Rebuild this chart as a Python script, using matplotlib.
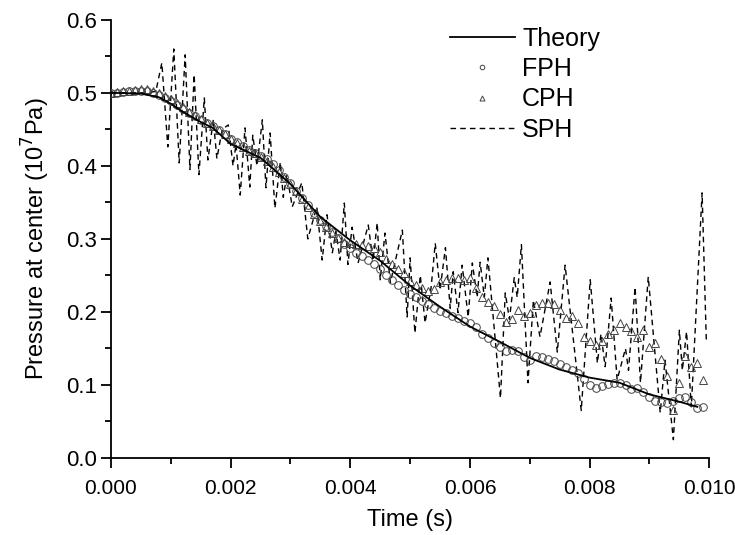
import matplotlib
matplotlib.use("Agg")
import matplotlib.pyplot as plt
import numpy as np
from matplotlib.ticker import MultipleLocator, FormatStrFormatter

plt.rcParams['font.family'] = ['Liberation Sans', 'DejaVu Sans']

# time in ms (converted to s when plotting), pressure in 10^7 Pa
theory_t = [0.0, 0.5, 0.8, 1.0, 1.2, 1.5, 1.7, 2.0, 2.5, 3.0, 3.5, 4.0, 4.5, 5.0,
            5.5, 6.0, 6.5, 7.0, 7.5, 8.0, 8.5, 9.0, 9.5, 9.8]
theory_p = [0.500, 0.499, 0.494, 0.485, 0.474, 0.460, 0.452, 0.430, 0.411, 0.375,
            0.330, 0.298, 0.270, 0.236, 0.207, 0.180, 0.159, 0.137, 0.121, 0.110,
            0.103, 0.087, 0.077, 0.070]

fph_p = [0.500, 0.500, 0.501, 0.502, 0.503, 0.503, 0.502, 0.500, 0.497, 0.493,
         0.489, 0.484, 0.478, 0.473, 0.468, 0.463, 0.458, 0.454, 0.449, 0.443,
         0.437, 0.432, 0.427, 0.422, 0.418, 0.414, 0.409, 0.402, 0.394, 0.385,
         0.376, 0.366, 0.356, 0.346, 0.336, 0.326, 0.318, 0.310, 0.301, 0.293,
         0.287, 0.281, 0.276, 0.271, 0.266, 0.259, 0.251, 0.244, 0.237, 0.230,
         0.225, 0.220, 0.215, 0.211, 0.206, 0.201, 0.198, 0.195, 0.191, 0.188,
         0.185, 0.179, 0.170, 0.164, 0.158, 0.152, 0.146, 0.148, 0.147, 0.138,
         0.134, 0.140, 0.138, 0.136, 0.133, 0.128, 0.124, 0.121, 0.117, 0.108,
         0.100, 0.096, 0.099, 0.101, 0.103, 0.103, 0.100, 0.094, 0.096, 0.090,
         0.083, 0.078, 0.076, 0.075, 0.078, 0.082, 0.084, 0.076, 0.068, 0.070]

cph_p = [0.500, 0.501, 0.502, 0.503, 0.504, 0.505, 0.505, 0.503, 0.500, 0.496,
         0.492, 0.486, 0.480, 0.474, 0.469, 0.464, 0.459, 0.454, 0.449, 0.443,
         0.437, 0.431, 0.426, 0.421, 0.417, 0.412, 0.406, 0.399, 0.392, 0.384,
         0.375, 0.365, 0.355, 0.344, 0.334, 0.325, 0.316, 0.308, 0.301, 0.296,
         0.294, 0.293, 0.292, 0.290, 0.288, 0.282, 0.273, 0.265, 0.259, 0.253,
         0.243, 0.237, 0.233, 0.229, 0.232, 0.241, 0.244, 0.247, 0.247, 0.244,
         0.247, 0.233, 0.221, 0.214, 0.208, 0.197, 0.186, 0.190, 0.202, 0.195,
         0.198, 0.209, 0.212, 0.212, 0.211, 0.203, 0.192, 0.195, 0.185, 0.165,
         0.160, 0.155, 0.160, 0.170, 0.175, 0.185, 0.180, 0.174, 0.165, 0.175,
         0.152, 0.158, 0.135, 0.112, 0.066, 0.103, 0.140, 0.125, 0.130, 0.107]

sph_t = [0.0, 0.3, 0.6, 0.75, 0.85, 0.95, 1.05, 1.14, 1.24, 1.32, 1.39, 1.47,
         1.56, 1.62, 1.71, 1.77, 1.86, 1.96, 2.04, 2.09, 2.16, 2.24, 2.32, 2.37,
         2.44, 2.53, 2.59, 2.66, 2.74, 2.83, 2.88, 2.94, 3.03, 3.19, 3.29, 3.44,
         3.53, 3.61, 3.70, 3.76, 3.83, 3.90, 3.96, 4.03, 4.13, 4.30, 4.38, 4.45,
         4.50, 4.58, 4.67, 4.87, 4.95, 5.00, 5.08, 5.17, 5.25, 5.35, 5.42, 5.50,
         5.59, 5.67, 5.72, 5.80, 5.87, 5.97, 6.04, 6.12, 6.17, 6.24, 6.30, 6.51,
         6.59, 6.66, 6.74, 6.79, 6.86, 6.97, 7.06, 7.17, 7.34, 7.46, 7.59, 7.86,
         8.01, 8.13, 8.19, 8.26, 8.36, 8.46, 8.60, 8.65, 8.76, 8.85, 8.98, 9.18,
         9.26, 9.40, 9.50, 9.55, 9.62, 9.70, 9.88, 9.95]
sph_p = [0.500, 0.500, 0.500, 0.502, 0.541, 0.426, 0.560, 0.404, 0.552, 0.395,
         0.525, 0.388, 0.493, 0.408, 0.463, 0.410, 0.450, 0.456, 0.400, 0.430,
         0.360, 0.452, 0.371, 0.442, 0.400, 0.463, 0.370, 0.445, 0.342, 0.405,
         0.357, 0.388, 0.344, 0.377, 0.300, 0.344, 0.271, 0.333, 0.281, 0.310,
         0.271, 0.349, 0.265, 0.316, 0.267, 0.319, 0.270, 0.322, 0.244, 0.308,
         0.240, 0.312, 0.193, 0.274, 0.171, 0.250, 0.185, 0.233, 0.294, 0.230,
         0.288, 0.205, 0.255, 0.199, 0.264, 0.193, 0.267, 0.220, 0.268, 0.220,
         0.274, 0.082, 0.226, 0.190, 0.247, 0.220, 0.292, 0.103, 0.216, 0.166,
         0.241, 0.145, 0.264, 0.065, 0.244, 0.130, 0.170, 0.125, 0.219, 0.107,
         0.150, 0.120, 0.234, 0.103, 0.248, 0.062, 0.134, 0.025, 0.175, 0.120,
         0.173, 0.070, 0.363, 0.162]

marker_t = np.arange(len(fph_p)) * 0.1  # FPH / CPH sampled every 0.1 ms

fig = plt.figure(figsize=(7.35, 5.35), dpi=100)
ax = fig.add_axes([0.151, 0.144, 0.814, 0.819])

ax.plot(np.array(theory_t) / 1000, theory_p, color='black', lw=1.3, label='Theory', zorder=4)
ax.plot(marker_t / 1000, fph_p, linestyle='none', marker='o', ms=5.5,
        mfc='none', mec='#444444', mew=0.7, label='FPH', zorder=3)
ax.plot(marker_t / 1000, cph_p, linestyle='none', marker='^', ms=6,
        mfc='none', mec='#444444', mew=0.7, label='CPH', zorder=3)
ax.plot(np.array(sph_t) / 1000, sph_p, color='black', lw=1.0,
        linestyle=(0, (4, 3)), label='SPH', zorder=2)

ax.set_xlim(0, 0.010)
ax.set_ylim(0, 0.6)
ax.xaxis.set_major_locator(MultipleLocator(0.002))
ax.xaxis.set_minor_locator(MultipleLocator(0.001))
ax.yaxis.set_major_locator(MultipleLocator(0.1))
ax.yaxis.set_minor_locator(MultipleLocator(0.05))
ax.xaxis.set_major_formatter(FormatStrFormatter('%.3f'))
ax.yaxis.set_major_formatter(FormatStrFormatter('%.1f'))

for s in ['top', 'right']:
    ax.spines[s].set_visible(False)
for s in ['left', 'bottom']:
    ax.spines[s].set_linewidth(1.3)
ax.tick_params(which='major', direction='out', length=7, width=1.3)
ax.tick_params(axis='x', which='major', pad=8, labelsize=15)
ax.tick_params(axis='y', which='major', pad=3, labelsize=16)
ax.tick_params(which='minor', direction='out', length=4, width=1.3)

ax.set_xlabel('Time (s)', fontsize=17, labelpad=8)
ax.set_ylabel('Pressure at center (10$^7$Pa)', fontsize=17, labelpad=10)

leg = ax.legend(loc='upper right', bbox_to_anchor=(0.855, 1.035), frameon=False,
                fontsize=18, handlelength=2.6, handletextpad=0.3,
                labelspacing=0.25, markerscale=0.6)

fig.savefig('out.png', dpi=100)
